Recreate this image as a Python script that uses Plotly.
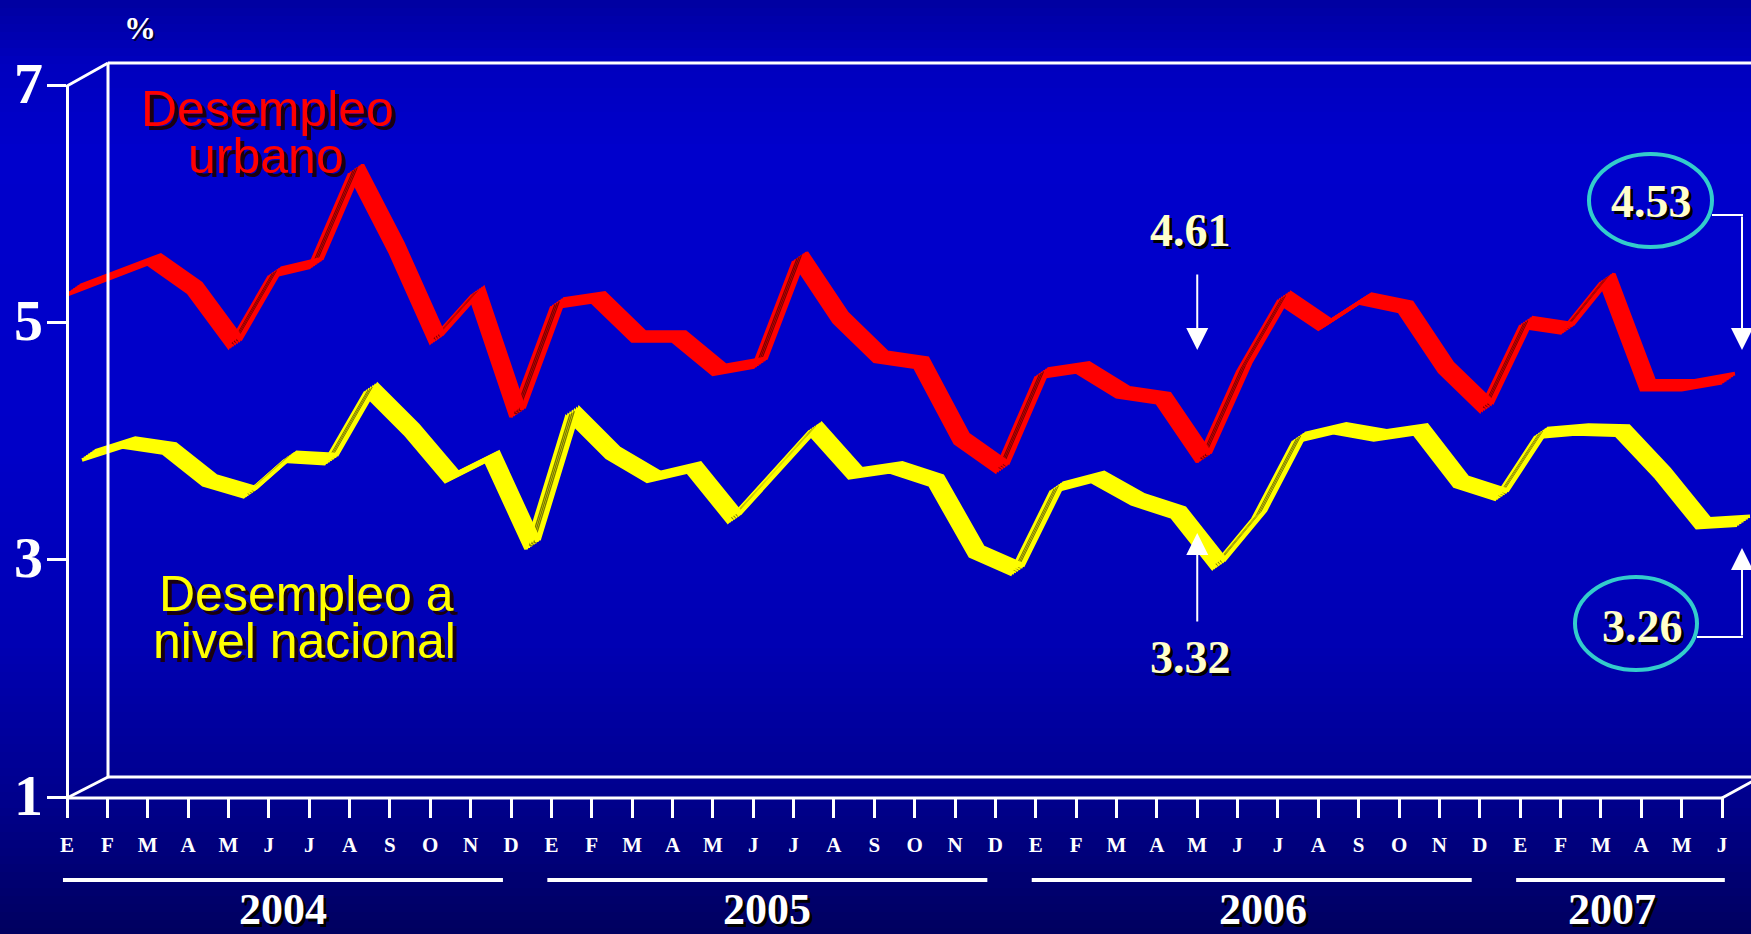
import plotly.graph_objects as go

# ---------------- data ----------------
months = ['E', 'F', 'M', 'A', 'M', 'J', 'J', 'A', 'S', 'O', 'N', 'D'] * 3 + ['E', 'F', 'M', 'A', 'M', 'J']
years = ['2004', '2005', '2006', '2007']
year_first = [0, 12, 24, 36]
year_last = [11, 23, 35, 41]

urbano = [5.27, 5.40, 5.53, 5.29, 4.83, 5.42, 5.50, 6.29, 5.63, 4.87, 5.25, 4.24,
          5.16, 5.21, 4.88, 4.88, 4.60, 4.66, 5.55, 5.04, 4.71, 4.66, 4.02, 3.78,
          4.57, 4.62, 4.41, 4.36, 3.86, 4.62, 5.21, 4.98, 5.20, 5.13, 4.62, 4.29,
          5.00, 4.95, 5.37, 4.47, 4.47, 4.53]
nacional = [3.81, 3.92, 3.87, 3.60, 3.50, 3.80, 3.78, 4.37, 4.03, 3.63, 3.80, 3.06,
            4.17, 3.83, 3.63, 3.71, 3.29, 3.66, 4.04, 3.66, 3.71, 3.60, 3.00, 2.85,
            3.54, 3.63, 3.44, 3.33, 2.90, 3.31, 3.96, 4.04, 3.98, 4.03, 3.59, 3.48,
            4.00, 4.03, 4.02, 3.66, 3.24, 3.26]
y_ticks = [1, 3, 5, 7]
callouts = ['4.61', '3.32', '4.53', '3.26']

# ---------------- geometry / style ----------------
W, H = 1751, 934
def px(x): return x / W
def py(y): return 1 - y / H

X_FRONT, X_LAST = 67, 1722          # pixel of first / last month on front plane
Y_BOT, Y_TOP = 797, 85              # pixel of value 1 / 7 on front plane
n = len(months)
ppm = (X_LAST - X_FRONT) / (n - 1)  # px per month
ppu = (Y_BOT - Y_TOP) / 6.0          # px per unit
xr0 = -X_FRONT / ppm
xr1 = (n - 1) + (W - X_LAST) / ppm
yr0, yr1 = 1, 7
ydom = [py(Y_BOT), py(Y_TOP)]

RIB_DX, RIB_DY = 13.0, 9.0          # ribbon depth in px (right, up)
NCOPY = 7
x = list(range(n))

fig = go.Figure()
layout_axes = {}

series = [  # back series first
    dict(vals=nacional, color='#FFFF00', dark='#7A7A00', base_dx=15.0, base_dy=-8.0),
    dict(vals=urbano, color='#FF0000', dark='#7A0000', base_dx=0.0, base_dy=0.0),
]

ax_n = 2
for s in series:
    vals = s['vals']
    ids = []
    for k in range(NCOPY):
        t = k / (NCOPY - 1)
        dx = s['base_dx'] + RIB_DX * t
        dyd = s['base_dy'] + RIB_DY * (0.5 - t)   # px downward
        layout_axes[f'xaxis{ax_n}'] = dict(overlaying='x', anchor='y', visible=False,
                                           range=[xr0 - dx / ppm, xr1 - dx / ppm])
        layout_axes[f'yaxis{ax_n}'] = dict(overlaying='y', anchor='x', visible=False,
                                           range=[yr0 + dyd / ppu, yr1 + dyd / ppu])
        ids.append(ax_n)
        ax_n += 1
    for a in reversed(ids):
        fig.add_trace(go.Scatter(x=x, y=vals, mode='lines', xaxis=f'x{a}', yaxis=f'y{a}',
                                 line=dict(color=s['color'], width=3.6), hoverinfo='skip',
                                 showlegend=False))
    ux, uy = [], []
    for i in range(n - 1):
        rise = (vals[i + 1] - vals[i]) * ppu
        if rise / ppm > RIB_DY / RIB_DX:
            ux += [x[i], x[i + 1], None]
            uy += [vals[i], vals[i + 1], None]
    for a in ids[2:NCOPY - 2]:
        fig.add_trace(go.Scatter(x=ux, y=uy, mode='lines', xaxis=f'x{a}', yaxis=f'y{a}',
                                 line=dict(color=s['dark'], width=3), hoverinfo='skip',
                                 showlegend=False, connectgaps=False))

# ---------------- background gradient ----------------
stops = [(0, 160), (63, 190), (150, 204), (450, 200), (650, 178), (800, 140), (934, 95)]
def blue_at(yy):
    for (y0, b0), (y1, b1) in zip(stops[:-1], stops[1:]):
        if y0 <= yy <= y1:
            return b0 + (b1 - b0) * (yy - y0) / (y1 - y0)
    return stops[-1][1]

shapes = []
band = 8
for yy in range(0, H, band):
    b = int(round(blue_at(yy + band / 2)))
    shapes.append(dict(type='rect', xref='paper', yref='paper', layer='below',
                       x0=0, x1=1, y0=py(yy + band + 1), y1=py(yy),
                       fillcolor=f'rgb(0,0,{b})', line=dict(width=0)))

def seg(x0, y0, x1, y1, w=3):
    shapes.append(dict(type='line', xref='paper', yref='paper',
                       x0=px(x0), y0=py(y0), x1=px(x1), y1=py(y1),
                       line=dict(color='white', width=w)))

BX, BT, BB = 108, 63, 777   # back wall
seg(BX, BT, W + 5, BT)
seg(BX, BB, W + 5, BB)
seg(BX, BT, BX, BB)
seg(X_FRONT, Y_TOP + 1, BX, BT)
seg(X_FRONT, Y_BOT + 1, BX, BB)
seg(X_FRONT - 1, Y_BOT + 1, X_LAST + 1, Y_BOT + 1)
seg(X_LAST, Y_BOT + 1, W + 2, Y_BOT - 16)

# year underlines
year_spans = []
for f, l in zip(year_first, year_last):
    x0 = f - 0.1
    x1 = l + 0.07 if l == n - 1 else l - 0.2
    year_spans.append((x0, x1))
    shapes.append(dict(type='line', xref='x', yref='paper', x0=x0, x1=x1,
                       y0=py(880), y1=py(880), line=dict(color='white', width=4)))

# ellipses
shapes.append(dict(type='circle', xref='paper', yref='paper',
                   x0=px(1589), x1=px(1712), y0=py(247), y1=py(154),
                   line=dict(color='#33CCCC', width=4)))
shapes.append(dict(type='circle', xref='paper', yref='paper',
                   x0=px(1575), x1=px(1697), y0=py(670), y1=py(577),
                   line=dict(color='#33CCCC', width=4)))
# connectors
seg(1712, 215, 1743, 215, 2)
seg(1697, 637, 1743, 637, 2)

# ---------------- annotations ----------------
ann = []
serif = 'Liberation Serif'
sans = 'Liberation Sans'

def text(xx, yy, s, size, color, family, bold=False, shadow='none'):
    ann.append(dict(x=px(xx), y=py(yy), xref='paper', yref='paper',
                    text=s, showarrow=False, xanchor='center', yanchor='middle',
                    font=dict(family=family, size=size, color=color,
                              weight='bold' if bold else 'normal', shadow=shadow)))

# y tick labels (placed on the value axis)
for v in y_ticks:
    ann.append(dict(x=px(28), y=v, xref='paper', yref='y', text=str(v), showarrow=False,
                    xanchor='center', yanchor='middle', yshift=2,
                    font=dict(family=serif, size=58, color='white', weight='bold')))

text(140, 28, '%', 32, 'white', serif, bold=True, shadow='2px 2px 0px #000033')
leg_shadow = '4px 4px 0px #1a0010'
text(267, 109, 'Desempleo', 50, '#FF0000', sans, shadow=leg_shadow)
text(266, 156, 'urbano', 50, '#FF0000', sans, shadow=leg_shadow)
text(306, 594, 'Desempleo a', 50, '#FFFF00', sans, shadow=leg_shadow)
text(304, 641, 'nivel nacional', 50, '#FFFF00', sans, shadow=leg_shadow)

num_shadow = '3px 3px 0px #000000'
num_font = dict(family=serif, size=46, color='#FFFFCC', weight='bold', shadow=num_shadow)
ann.append(dict(x=28 - 0.17, y=py(231), xref='x', yref='paper', text=callouts[0],
                showarrow=False, xanchor='center', yanchor='middle', font=num_font))
ann.append(dict(x=28 - 0.17, y=py(657), xref='x', yref='paper', text=callouts[1],
                showarrow=False, xanchor='center', yanchor='middle', font=num_font))
text(1651, 202, callouts[2], 46, '#FFFFCC', serif, bold=True, shadow=num_shadow)
text(1642, 626, callouts[3], 46, '#FFFFCC', serif, bold=True, shadow=num_shadow)

year_label_adjust = [0.0, 0.0, 0.28, -0.22]
for (x0, x1), yl, adj in zip(year_spans, years, year_label_adjust):
    ann.append(dict(x=(x0 + x1) / 2 + adj, y=py(909), xref='x', yref='paper', text=yl,
                    showarrow=False, xanchor='center', yanchor='middle',
                    font=dict(family=serif, size=44, color='white', weight='bold',
                              shadow='3px 3px 0px #000000')))

def arrow(xx, y_tip, y_tail):
    ann.append(dict(x=xx, y=py(y_tip), xref='x', yref='paper',
                    ax=0, ay=y_tail - y_tip, text='', showarrow=True,
                    arrowhead=2, arrowsize=2.2, arrowwidth=2, arrowcolor='white'))

arrow(28, 350, 273)
arrow(28, 533, 623)
arrow((1742 - X_FRONT) / ppm, 350, 215)
arrow((1742 - X_FRONT) / ppm, 548, 637)

fig.update_layout(
    width=W, height=H, margin=dict(l=0, r=0, t=0, b=0),
    paper_bgcolor='#0000B0', plot_bgcolor='rgba(0,0,0,0)',
    showlegend=False, shapes=shapes, annotations=ann,
    xaxis=dict(domain=[0, 1], range=[xr0, xr1], anchor='y',
               tickmode='array', tickvals=x, ticktext=months,
               ticks='outside', ticklen=20, tickwidth=3, tickcolor='white',
               showline=False, showgrid=False, zeroline=False, automargin=False,
               ticklabelstandoff=9,
               tickfont=dict(family=serif, size=21, color='white', weight='bold')),
    yaxis=dict(domain=ydom, range=[yr0, yr1], anchor='free', position=px(X_FRONT),
               tickmode='array', tickvals=y_ticks, showticklabels=False,
               ticks='outside', ticklen=19, tickwidth=3, tickcolor='white',
               showline=True, linecolor='white', linewidth=3,
               showgrid=False, zeroline=False, automargin=False),
    **layout_axes,
)

fig.write_html('out.html', config={'displayModeBar': False},
               post_script="document.body.style.margin='0';document.body.style.overflow='hidden';")
